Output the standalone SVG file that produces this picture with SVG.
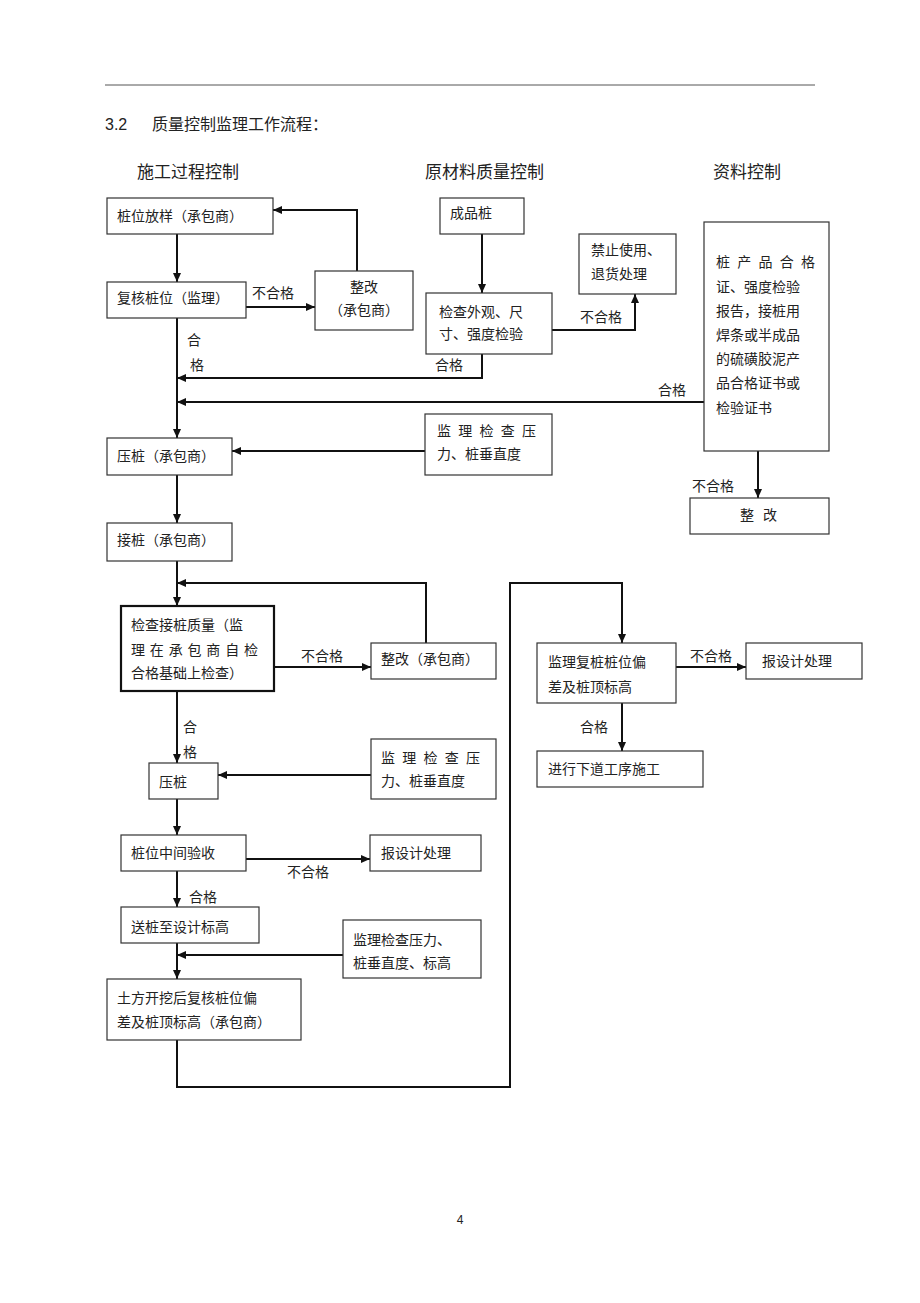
<svg xmlns="http://www.w3.org/2000/svg" width="920" height="1303" viewBox="0 0 920 1303">
<style>
.bg{fill:#fff}
.box{fill:#fff;stroke:#333;stroke-width:1.2}
.bold{fill:#fff;stroke:#111;stroke-width:2.2}
.t{font-family:"Liberation Serif","Noto Sans CJK SC",serif;font-size:14px;fill:#222}
.h{font-family:"Liberation Serif","Noto Sans CJK SC",serif;font-size:17px;fill:#222}
.c{fill:none;stroke:#111;stroke-width:2}
</style>
<defs>
<marker id="ah" markerUnits="userSpaceOnUse" markerWidth="10" markerHeight="10" refX="9" refY="5" orient="auto">
<path d="M0,1 L9,5 L0,9 Z" fill="#111"/>
</marker>
</defs>
<rect class="bg" x="0" y="0" width="920" height="1303"/>
<line x1="105" y1="85" x2="815" y2="85" stroke="#555" stroke-width="1"/>
<text x="105" y="130" font-family="Liberation Sans,Arial,sans-serif" font-size="16" fill="#222">3.2</text>
<text x="152" y="130" class="t" style="font-size:16px">质量控制监理工作流程：</text>
<text x="137" y="178" class="h">施工过程控制</text>
<text x="425" y="178" class="h">原材料质量控制</text>
<text x="713" y="178" class="h">资料控制</text>

<g id="connectors">
<path class="c" d="M177,234 V282" marker-end="url(#ah)"/>
<path class="c" d="M246,307 H315" marker-end="url(#ah)"/>
<path class="c" d="M357,271 V210 H273" marker-end="url(#ah)"/>
<path class="c" d="M482,234 V293" marker-end="url(#ah)"/>
<path class="c" d="M552,330 H635 V294" marker-end="url(#ah)"/>
<path class="c" d="M482,354 V378 H177" marker-end="url(#ah)"/>
<path class="c" d="M704,402 H177" marker-end="url(#ah)"/>
<path class="c" d="M177,318 V438" marker-end="url(#ah)"/>
<path class="c" d="M758,451 V498" marker-end="url(#ah)"/>
<path class="c" d="M425,451 H232" marker-end="url(#ah)"/>
<path class="c" d="M177,475 V523" marker-end="url(#ah)"/>
<path class="c" d="M177,561 V606" marker-end="url(#ah)"/>
<path class="c" d="M426,643 V583 H177" marker-end="url(#ah)"/>
<path class="c" d="M274,667 H371" marker-end="url(#ah)"/>
<path class="c" d="M177,691 V763" marker-end="url(#ah)"/>
<path class="c" d="M371,775 H218" marker-end="url(#ah)"/>
<path class="c" d="M177,799 V835" marker-end="url(#ah)"/>
<path class="c" d="M246,859 H370" marker-end="url(#ah)"/>
<path class="c" d="M177,871 V907" marker-end="url(#ah)"/>
<path class="c" d="M343,955 H177" marker-end="url(#ah)"/>
<path class="c" d="M177,943 V979" marker-end="url(#ah)"/>
<path class="c" d="M177,1040 V1087 H510 V583 H622 V643" marker-end="url(#ah)"/>
<path class="c" d="M676,667 H746" marker-end="url(#ah)"/>
<path class="c" d="M622,703 V751" marker-end="url(#ah)"/>
<text class="t" x="252" y="298">不合格</text>
<text class="t" x="580" y="322">不合格</text>
<text class="t" x="435" y="370">合格</text>
<text class="t" x="187" y="345">合</text>
<text class="t" x="190" y="370">格</text>
<text class="t" x="658" y="395">合格</text>
<text class="t" x="692" y="491">不合格</text>
<text class="t" x="301" y="661">不合格</text>
<text class="t" x="183" y="732">合</text>
<text class="t" x="183" y="757">格</text>
<text class="t" x="287" y="877">不合格</text>
<text class="t" x="189" y="902">合格</text>
<text class="t" x="690" y="661">不合格</text>
<text class="t" x="580" y="732">合格</text>
</g>

<g id="n1"><rect class="box" x="107" y="198" width="166" height="36"/><text class="t" x="117" y="221">桩位放样（承包商）</text></g>
<g id="n2"><rect class="box" x="107" y="282" width="139" height="36"/><text class="t" x="117" y="303">复核桩位（监理）</text></g>
<g id="n3"><rect class="box" x="315" y="271" width="98" height="59"/><text class="t" x="364" y="292" text-anchor="middle">整改</text><text class="t" x="364" y="315" text-anchor="middle">（承包商）</text></g>
<g id="n4"><rect class="box" x="440" y="198" width="84" height="36"/><text class="t" x="450" y="218">成品桩</text></g>
<g id="n5"><rect class="box" x="579" y="234" width="97" height="60"/><text class="t" x="591" y="255">禁止使用、</text><text class="t" x="591" y="279">退货处理</text></g>
<g id="n6"><rect class="box" x="426" y="293" width="126" height="61"/><text class="t" x="439" y="317">检查外观、尺</text><text class="t" x="439" y="339">寸、强度检验</text></g>
<g id="n7"><rect class="box" x="704" y="222" width="125" height="229"/>
<text class="t" x="716" y="267" textLength="99" lengthAdjust="spacing">桩产品合格</text>
<text class="t" x="716" y="292">证、强度检验</text>
<text class="t" x="716" y="316">报告，接桩用</text>
<text class="t" x="716" y="340">焊条或半成品</text>
<text class="t" x="716" y="364">的硫磺胶泥产</text>
<text class="t" x="716" y="388">品合格证书或</text>
<text class="t" x="716" y="413">检验证书</text></g>
<g id="n8"><rect class="box" x="690" y="498" width="139" height="36"/><text class="t" x="740" y="520" textLength="37" lengthAdjust="spacing">整改</text></g>
<g id="n9"><rect class="box" x="107" y="438" width="125" height="37"/><text class="t" x="117" y="461">压桩（承包商）</text></g>
<g id="n10"><rect class="box" x="425" y="414" width="127" height="61"/><text class="t" x="437" y="436" textLength="99" lengthAdjust="spacing">监理检查压</text><text class="t" x="437" y="459">力、桩垂直度</text></g>
<g id="n11"><rect class="box" x="107" y="523" width="125" height="38"/><text class="t" x="117" y="545">接桩（承包商）</text></g>
<g id="n12"><rect class="bold" x="121" y="606" width="153" height="85"/><text class="t" x="131" y="630">检查接桩质量（监</text><text class="t" x="131" y="655" textLength="127" lengthAdjust="spacing">理在承包商自检</text><text class="t" x="131" y="678">合格基础上检查）</text></g>
<g id="n13"><rect class="box" x="371" y="643" width="125" height="36"/><text class="t" x="381" y="664">整改（承包商）</text></g>
<g id="n14"><rect class="box" x="149" y="763" width="69" height="36"/><text class="t" x="159" y="787">压桩</text></g>
<g id="n15"><rect class="box" x="371" y="739" width="125" height="60"/><text class="t" x="381" y="763" textLength="99" lengthAdjust="spacing">监理检查压</text><text class="t" x="381" y="786">力、桩垂直度</text></g>
<g id="n16"><rect class="box" x="121" y="835" width="125" height="36"/><text class="t" x="131" y="858">桩位中间验收</text></g>
<g id="n17"><rect class="box" x="370" y="835" width="111" height="36"/><text class="t" x="381" y="858">报设计处理</text></g>
<g id="n18"><rect class="box" x="121" y="907" width="138" height="36"/><text class="t" x="131" y="932">送桩至设计标高</text></g>
<g id="n19"><rect class="box" x="343" y="920" width="138" height="58"/><text class="t" x="353" y="945">监理检查压力、</text><text class="t" x="353" y="968">桩垂直度、标高</text></g>
<g id="n20"><rect class="box" x="107" y="979" width="194" height="61"/><text class="t" x="117" y="1003">土方开挖后复核桩位偏</text><text class="t" x="117" y="1027">差及桩顶标高（承包商）</text></g>
<g id="n21"><rect class="box" x="537" y="643" width="139" height="60"/><text class="t" x="548" y="667">监理复桩桩位偏</text><text class="t" x="548" y="692">差及桩顶标高</text></g>
<g id="n22"><rect class="box" x="746" y="643" width="116" height="36"/><text class="t" x="762" y="666">报设计处理</text></g>
<g id="n23"><rect class="box" x="537" y="751" width="166" height="36"/><text class="t" x="548" y="774">进行下道工序施工</text></g>
<text x="460" y="1224" text-anchor="middle" font-family="Liberation Sans,Arial,sans-serif" font-size="12" fill="#222">4</text>
</svg>
